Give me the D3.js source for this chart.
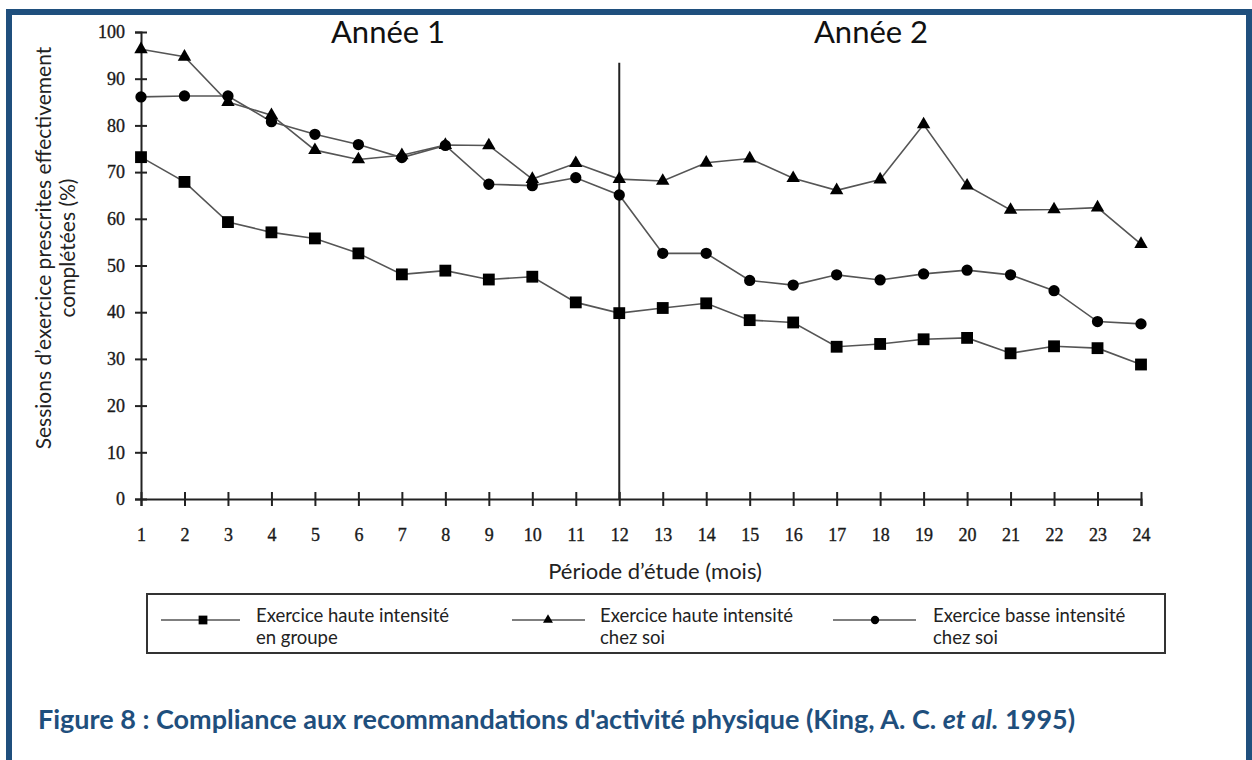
<!DOCTYPE html>
<html>
<head>
<meta charset="utf-8">
<script src="https://cdn.jsdelivr.net/npm/d3@7"></script>
<style>
  html, body { margin: 0; padding: 0; background: #fff; }
  svg { display: block; }
</style>
</head>
<body>
<svg id="chart" width="1252" height="760"></svg>
<script>
// ---- data ----
const months = d3.range(1, 25);
const groupHigh = [73.2, 67.9, 59.3, 57.1, 55.8, 52.6, 48.1, 48.9, 47.0, 47.6, 42.1, 39.8, 40.9, 41.9, 38.3, 37.8, 32.6, 33.2, 34.2, 34.5, 31.2, 32.7, 32.3, 28.8];
const homeHigh  = [96.3, 94.7, 85.0, 82.2, 74.7, 72.7, 73.6, 75.8, 75.7, 68.5, 71.9, 68.5, 68.1, 72.0, 72.9, 68.7, 66.1, 68.4, 80.2, 67.1, 61.9, 62.0, 62.4, 54.6];
const homeLow   = [86.1, 86.3, 86.3, 80.8, 78.1, 75.9, 73.1, 75.7, 67.4, 67.1, 68.8, 65.1, 52.6, 52.6, 46.8, 45.8, 48.0, 46.9, 48.2, 49.0, 48.0, 44.6, 38.0, 37.5];
const yTicks = [0, 10, 20, 30, 40, 50, 60, 70, 80, 90, 100];
const seriesNames = [["Exercice haute intensité", "en groupe"], ["Exercice haute intensité", "chez soi"], ["Exercice basse intensité", "chez soi"]];
const yearLabels = ["Année 1", "Année 2"];
const dividerMonth = 12;
const dividerTop = 93.4;
const yTitle = ["Sessions d\u2019exercice prescrites effectivement", "complétées (%)"];
const xTitle = "Période d\u2019étude (mois)";

const svg = d3.select("#chart");
const blue = "#1f4f7d";

// frame
svg.append("rect").attr("x", 9).attr("y", 12).attr("width", 1240).attr("height", 760)
  .attr("fill", "#fff").attr("stroke", blue).attr("stroke-width", 6);

const x = d3.scaleLinear().domain([1, 24]).range([141, 1141]);
const y = d3.scaleLinear().domain([0, 100]).range([499, 32]);

const serif = "'Liberation Serif', 'DejaVu Serif', serif";
const sans = "Lato, 'Open Sans', sans-serif";

// y axis
const yAx = svg.append("g").attr("transform", `translate(${x(1)},0)`)
  .call(d3.axisLeft(y).tickValues(yTicks).tickSizeOuter(0).tickSize(6).tickPadding(10));
yAx.select(".domain").attr("stroke", "#222").attr("stroke-width", 2);
yAx.selectAll(".tick line").attr("x1", 6).attr("stroke", "#222").attr("stroke-width", 2);
yAx.selectAll(".tick text").attr("font-family", serif).attr("font-size", 18).attr("fill", "#1a1a1a")
  .attr("stroke", "#1a1a1a").attr("stroke-width", 0.35).attr("x", -16);

// x axis
const xAx = svg.append("g").attr("transform", `translate(0,${y(0)})`)
  .call(d3.axisBottom(x).tickValues(months).tickFormat(d3.format("d")).tickSizeOuter(0).tickSize(7).tickPadding(18));
xAx.select(".domain").attr("stroke", "#222").attr("stroke-width", 2);
xAx.selectAll(".tick line").attr("y1", -7).attr("stroke", "#222").attr("stroke-width", 2);
xAx.selectAll(".tick text").attr("font-family", serif).attr("font-size", 18).attr("fill", "#1a1a1a")
  .attr("stroke", "#1a1a1a").attr("stroke-width", 0.35).attr("y", 29);

// divider
svg.append("line").attr("x1", x(dividerMonth)).attr("x2", x(dividerMonth))
  .attr("y1", y(dividerTop)).attr("y2", y(0)).attr("stroke", "#222").attr("stroke-width", 2);

// year labels
svg.append("text").attr("x", 388).attr("y", 43).attr("text-anchor", "middle")
  .attr("font-family", sans).attr("font-size", 31).attr("fill", "#111").text(yearLabels[0]);
svg.append("text").attr("x", 871).attr("y", 43).attr("text-anchor", "middle")
  .attr("font-family", sans).attr("font-size", 31).attr("fill", "#111").text(yearLabels[1]);

// axis titles
svg.append("text").attr("transform", "translate(51,248) rotate(-90)").attr("text-anchor", "middle")
  .attr("font-family", sans).attr("font-size", 21).attr("fill", "#222").text(yTitle[0]);
svg.append("text").attr("transform", "translate(74.5,248) rotate(-90)").attr("text-anchor", "middle")
  .attr("font-family", sans).attr("font-size", 21).attr("fill", "#222").text(yTitle[1]);
svg.append("text").attr("x", 655).attr("y", 579).attr("text-anchor", "middle")
  .attr("font-family", sans).attr("font-size", 22).attr("fill", "#222").text(xTitle);

// series
const allSeries = [groupHigh, homeHigh, homeLow];
const symbols = [d3.symbolSquare, d3.symbolTriangle, d3.symbolCircle];
const symSizes = [140, 78, 100];
const line = d3.line().x((d, i) => x(months[i])).y(d => y(d));

allSeries.forEach((s, k) => {
  svg.append("path").attr("d", line(s)).attr("fill", "none").attr("stroke", "#555").attr("stroke-width", 1.6);
});
allSeries.forEach((s, k) => {
  svg.append("g").selectAll("path").data(s).join("path")
    .attr("transform", (d, i) => `translate(${x(months[i])},${y(d)})`)
    .attr("d", d3.symbol().type(symbols[k]).size(symSizes[k]))
    .attr("fill", "#000");
});

// legend
svg.append("rect").attr("x", 147).attr("y", 594).attr("width", 1018).attr("height", 59)
  .attr("fill", "#fff").attr("stroke", "#333").attr("stroke-width", 2);
const legItems = [
  {x1: 161, x2: 240, sx: 203, tx: 256},
  {x1: 512, x2: 585, sx: 548, tx: 600},
  {x1: 833, x2: 916, sx: 875, tx: 933}
];
legItems.forEach((it, k) => {
  svg.append("line").attr("x1", it.x1).attr("x2", it.x2).attr("y1", 620).attr("y2", 620)
    .attr("stroke", "#555").attr("stroke-width", 1.3);
  svg.append("path").attr("transform", `translate(${it.sx},620)`)
    .attr("d", d3.symbol().type(symbols[k]).size(symSizes[k] * 0.55)).attr("fill", "#000");
  const t = svg.append("text").attr("font-family", sans).attr("font-size", 18.5).attr("fill", "#222");
  t.append("tspan").attr("x", it.tx).attr("y", 622).text(seriesNames[k][0]);
  t.append("tspan").attr("x", it.tx).attr("y", 644).text(seriesNames[k][1]);
});

// caption
const cap = svg.append("text").attr("x", 38).attr("y", 729)
  .attr("font-family", sans).attr("font-size", 27).attr("font-weight", "bold").attr("fill", blue);
cap.append("tspan").text("Figure 8 : Compliance aux recommandations d'activité physique (King, A. C. ");
cap.append("tspan").attr("font-style", "italic").text("et al.");
cap.append("tspan").text(" 1995)");
</script>
</body>
</html>
